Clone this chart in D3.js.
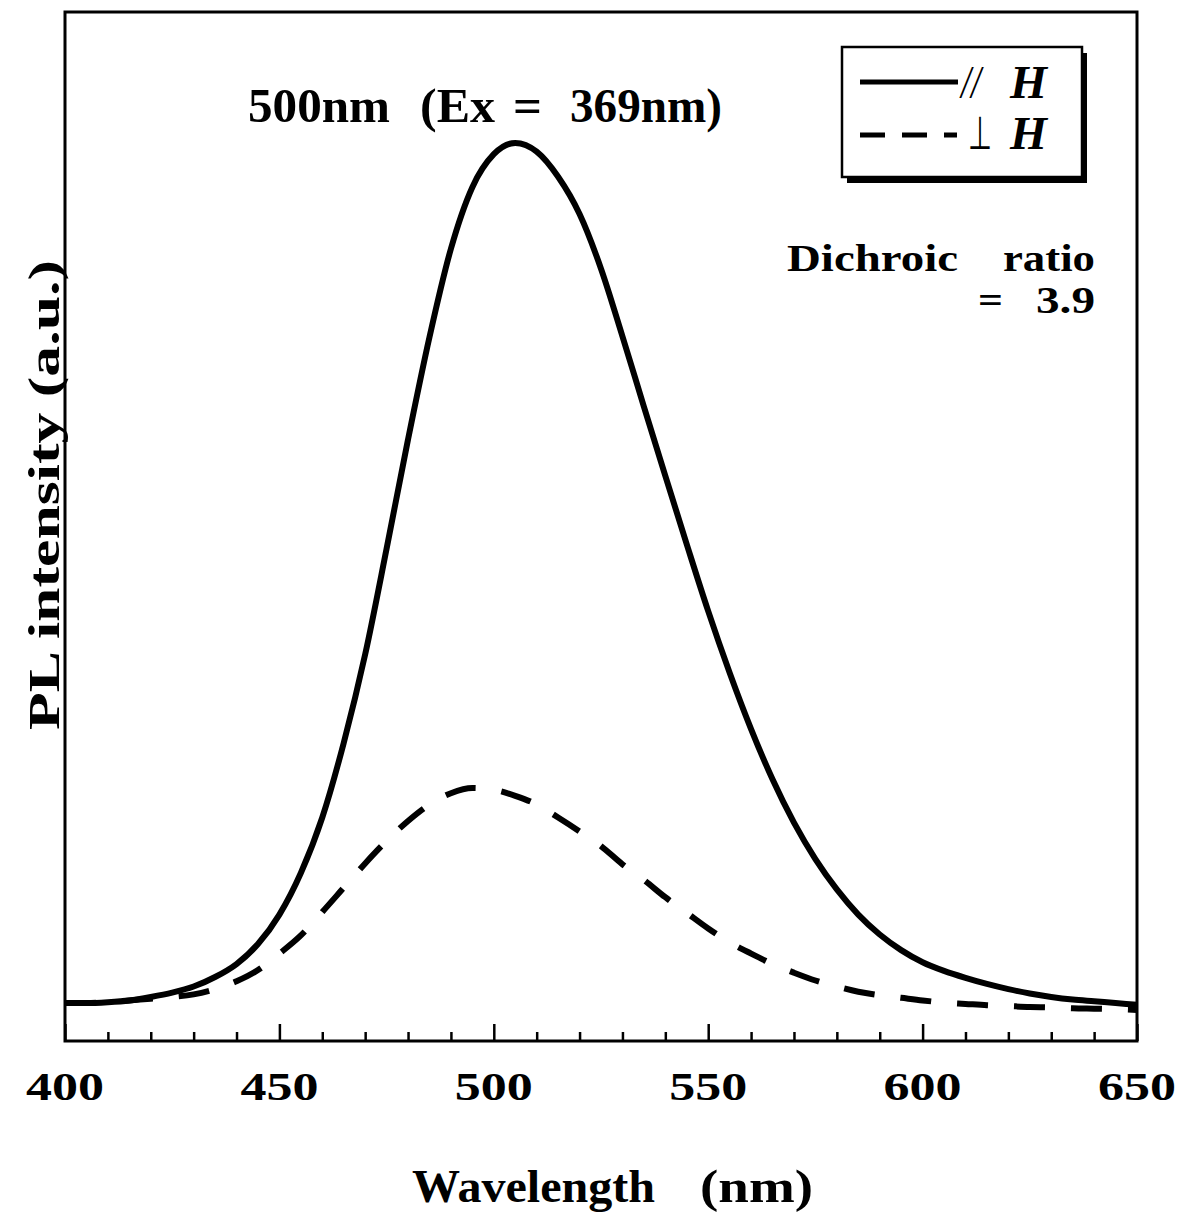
<!DOCTYPE html>
<html>
<head>
<meta charset="utf-8">
<script src="https://cdn.jsdelivr.net/npm/d3@7"></script>
<style>
  body { margin: 0; background: #fff; }
  text { font-family: "Liberation Serif", "Times New Roman", serif; fill: #000; }
</style>
</head>
<body>
<svg id="chart" width="1183" height="1223"></svg>
<script>
// Emission wavelength (nm)
const wavelength = [400,405,410,415,420,425,430,435,440,445,450,455,460,465,470,475,480,485,490,495,
  500,505,510,515,520,525,530,535,540,545,550,555,560,565,570,575,580,585,590,595,
  600,605,610,615,620,625,630,635,640,645,650];

// PL intensity, polarisation parallel to H (a.u.)
const parallelH = [0.8,0.8,0.9,1.1,1.5,2.0,2.7,3.8,5.3,7.6,11.0,15.8,22.2,30.8,41.0,53.2,65.8,77.6,87.8,94.9,
  98.7,100,99.0,96.1,91.8,85.5,77.7,69.6,61.6,53.7,46.0,38.9,32.4,26.6,21.6,17.4,13.9,11.0,8.7,6.9,
  5.5,4.5,3.7,3.0,2.4,1.9,1.5,1.2,1.0,0.8,0.6];

// PL intensity, polarisation perpendicular to H (a.u.)
const perpendicularH = [0.8,0.8,0.9,1.1,1.3,1.5,1.8,2.4,3.3,4.6,6.5,8.6,11.3,14.1,16.9,19.5,21.8,23.7,25.0,25.6,
  25.4,24.7,23.7,22.2,20.6,18.9,16.8,15.0,13.0,11.2,9.4,7.8,6.5,5.3,4.3,3.4,2.7,2.1,1.7,1.4,
  1.1,0.85,0.7,0.55,0.45,0.35,0.3,0.2,0.15,0.1,0.0];

const majorTicks = [400,450,500,550,600,650];
const minorTicks = [410,420,430,440,460,470,480,490,510,520,530,540,560,570,580,590,610,620,630,640];

const svg = d3.select("#chart");

const plot = { left: 65, right: 1137, top: 12, bottom: 1041 };

const x = d3.scaleLinear().domain([400, 650]).range([plot.left, plot.right]);
const y = d3.scaleLinear().domain([-3.58, 115.1]).range([plot.bottom, plot.top]);

// inward ticks on the bottom axis
const minorAxis = d3.axisBottom(x).tickValues(minorTicks).tickSize(-9).tickFormat("");
const majorAxis = d3.axisBottom(x).tickValues(majorTicks).tickSize(-17).tickFormat("");

[minorAxis, majorAxis].forEach(ax => {
  const g = svg.append("g").attr("transform", `translate(0,${plot.bottom})`).call(ax);
  g.select(".domain").remove();
  g.selectAll(".tick line").attr("stroke", "#000").attr("stroke-width", 2.5);
});

// tick labels
svg.append("g").selectAll("text").data(majorTicks).join("text")
  .attr("x", d => x(d))
  .attr("y", 1100)
  .attr("text-anchor", "middle")
  .attr("font-size", 41)
  .attr("font-weight", "bold")
  .attr("textLength", 78)
  .attr("lengthAdjust", "spacingAndGlyphs")
  .text(d => d);

// frame
svg.append("rect")
  .attr("x", plot.left).attr("y", plot.top)
  .attr("width", plot.right - plot.left).attr("height", plot.bottom - plot.top)
  .attr("fill", "none").attr("stroke", "#000").attr("stroke-width", 3);

const line = d3.line()
  .x((d, i) => x(wavelength[i]))
  .y(d => y(d))
  .curve(d3.curveMonotoneX);

svg.append("path")
  .attr("d", line(perpendicularH))
  .attr("fill", "none").attr("stroke", "#000").attr("stroke-width", 6)
  .attr("stroke-dasharray", "31,26");

svg.append("path")
  .attr("d", line(parallelH))
  .attr("fill", "none").attr("stroke", "#000").attr("stroke-width", 6);

// axis titles
svg.append("text")
  .attr("x", 412).attr("y", 1202)
  .attr("font-size", 46).attr("font-weight", "bold")
  .attr("textLength", 243).attr("lengthAdjust", "spacingAndGlyphs")
  .text("Wavelength");
svg.append("text")
  .attr("x", 700).attr("y", 1202)
  .attr("font-size", 46).attr("font-weight", "bold")
  .attr("textLength", 113).attr("lengthAdjust", "spacingAndGlyphs")
  .text("(nm)");

svg.append("text")
  .attr("transform", "translate(59,495) rotate(-90)")
  .attr("text-anchor", "middle")
  .attr("font-size", 45).attr("font-weight", "bold")
  .attr("textLength", 470).attr("lengthAdjust", "spacingAndGlyphs")
  .text("PL intensity (a.u.)");

// annotation: emission peak and excitation wavelength
const titleWords = [
  { t: "500nm", x0: 248, w: 142 },
  { t: "(Ex", x0: 420, w: 75 },
  { t: "=", x0: 513, w: 29 },
  { t: "369nm)", x0: 570, w: 152 }
];
svg.append("g").selectAll("text").data(titleWords).join("text")
  .attr("x", d => d.x0).attr("y", 122)
  .attr("font-size", 48).attr("font-weight", "bold")
  .attr("textLength", d => d.w).attr("lengthAdjust", "spacingAndGlyphs")
  .text(d => d.t);

// annotation: dichroic ratio
const ratioWords = [
  { t: "Dichroic", x0: 787, y0: 271, w: 171 },
  { t: "ratio", x0: 1003, y0: 271, w: 92 },
  { t: "=", x0: 978, y0: 313, w: 25 },
  { t: "3.9", x0: 1036, y0: 313, w: 59 }
];
svg.append("g").selectAll("text").data(ratioWords).join("text")
  .attr("x", d => d.x0).attr("y", d => d.y0)
  .attr("font-size", 38).attr("font-weight", "bold")
  .attr("textLength", d => d.w).attr("lengthAdjust", "spacingAndGlyphs")
  .text(d => d.t);

// legend
const legend = svg.append("g");
legend.append("rect").attr("x", 847).attr("y", 53).attr("width", 240).attr("height", 130).attr("fill", "#000");
legend.append("rect").attr("x", 842).attr("y", 47).attr("width", 240).attr("height", 130)
  .attr("fill", "#fff").attr("stroke", "#000").attr("stroke-width", 2.5);

legend.append("line").attr("x1", 860).attr("x2", 958).attr("y1", 82).attr("y2", 82)
  .attr("stroke", "#000").attr("stroke-width", 5);
legend.append("line").attr("x1", 860).attr("x2", 957).attr("y1", 135).attr("y2", 135)
  .attr("stroke", "#000").attr("stroke-width", 5).attr("stroke-dasharray", "25,17");

legend.append("text").attr("x", 961).attr("y", 98).attr("font-size", 46)
  .attr("font-style", "italic").attr("textLength", 20).attr("lengthAdjust", "spacingAndGlyphs").text("//");
legend.append("text").attr("x", 1010).attr("y", 98).attr("font-size", 47)
  .attr("font-weight", "bold").attr("font-style", "italic")
  .attr("textLength", 37).attr("lengthAdjust", "spacingAndGlyphs").text("H");

legend.append("text").attr("x", 968).attr("y", 149).attr("font-size", 46)
  .attr("textLength", 24).attr("lengthAdjust", "spacingAndGlyphs")
  .style("font-family", "'DejaVu Sans', sans-serif").text("⊥");
legend.append("text").attr("x", 1010).attr("y", 149).attr("font-size", 47)
  .attr("font-weight", "bold").attr("font-style", "italic")
  .attr("textLength", 37).attr("lengthAdjust", "spacingAndGlyphs").text("H");
</script>
</body>
</html>
